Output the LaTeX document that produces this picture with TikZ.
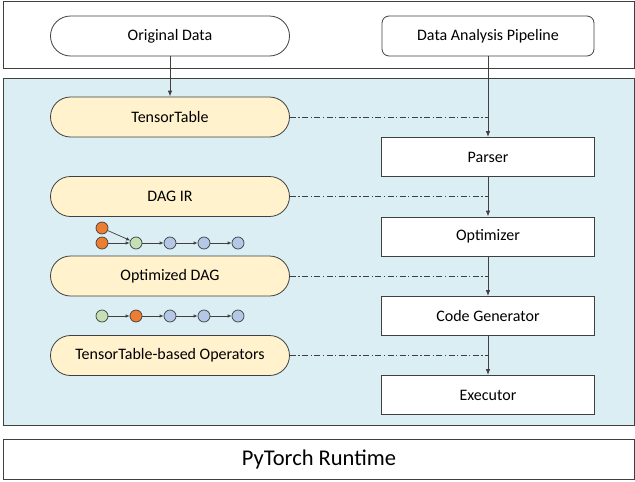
\documentclass[tikz,border=0pt]{standalone}
\usepackage{fontspec}
\setmainfont{Carlito}
\usetikzlibrary{arrows.meta}
\definecolor{bgblue}{HTML}{DAEEF3}
\definecolor{pillyellow}{HTML}{FFF2CC}
\definecolor{dorange}{HTML}{ED7D31}
\definecolor{dgreen}{HTML}{C5E0B4}
\definecolor{dblue}{HTML}{B4C7E7}
\definecolor{edge}{HTML}{404040}
\tikzset{
  pill/.style={draw=edge, line width=0.8pt, rounded corners=20pt, minimum width=239pt, minimum height=40pt, font=\fontsize{16}{18}\selectfont, inner sep=0pt},
  ypill/.style={pill, fill=pillyellow},
  stagebox/.style={draw=edge, line width=0.8pt, fill=white, minimum width=213pt, minimum height=39pt, font=\fontsize{16}{18}\selectfont, inner sep=0pt},
  flow/.style={draw=edge, line width=0.9pt, -{Latex[length=6pt,width=4.5pt]}},
  link/.style={draw=edge, line width=0.6pt, dash pattern=on 6pt off 2.5pt on 1.2pt off 2.5pt},
  dot/.style={circle, draw=edge, line width=0.7pt, minimum size=12pt, inner sep=0pt},
  darr/.style={draw=edge, line width=0.7pt, -{Latex[length=4pt,width=3.5pt]}},
}
\begin{document}
\begin{tikzpicture}[x=1pt,y=-1pt]
\useasboundingbox (0,0) rectangle (635,482);
% layers
\node[draw=edge, line width=0.9pt, minimum width=631pt, minimum height=67pt, inner sep=0pt] (top) at (319,35) {};
\node[draw=edge, line width=0.9pt, fill=bgblue, minimum width=631pt, minimum height=347pt, inner sep=0pt] (mid) at (319,251.5) {};
\node[draw=edge, line width=0.9pt, minimum width=631pt, minimum height=40pt, inner sep=0pt, font=\fontsize{22.5}{26}\selectfont] (rt) at (319,459) {PyTorch Runtime};
% top nodes
\node[pill, fill=white] (orig) at (170,36) {Original Data};
\node[pill, fill=white, rounded corners=7pt, minimum width=212pt] (dap) at (488,36) {Data Analysis Pipeline};
% left pills
\node[ypill] (tt) at (170,117) {TensorTable};
\node[ypill] (dag) at (170,196.5) {DAG IR};
\node[ypill] (odag) at (170,276) {Optimized DAG};
\node[ypill] (ops) at (170,355.5) {TensorTable-based Operators};
% right boxes
\node[stagebox] (parser) at (488,157) {Parser};
\node[stagebox] (opt) at (488,236.5) {Optimizer};
\node[stagebox] (cg) at (488,316) {Code Generator};
\node[stagebox] (ex) at (488,395) {Executor};
% flow arrows
\draw[flow] (orig) -- (tt);
\draw[flow] (dap) -- (parser);
\draw[flow] (parser) -- (opt);
\draw[flow] (opt) -- (cg);
\draw[flow] (cg) -- (ex);
% dash-dot links
\coordinate (l1) at (488,117);
\coordinate (l2) at (488,196.5);
\coordinate (l3) at (488,276);
\coordinate (l4) at (488,355.5);
\draw[link] (tt.east) -- (l1);
\draw[link] (dag.east) -- (l2);
\draw[link] (odag.east) -- (l3);
\draw[link] (ops.east) -- (l4);
% DAG graph 1
\node[dot, fill=dorange] (a0) at (102,228) {};
\node[dot, fill=dorange] (a1) at (102,243) {};
\node[dot, fill=dgreen] (a2) at (136,243) {};
\node[dot, fill=dblue] (a3) at (170,243) {};
\node[dot, fill=dblue] (a4) at (204,243) {};
\node[dot, fill=dblue] (a5) at (238,243) {};
\draw[darr] (a0) -- (a2);
\draw[darr] (a1) -- (a2);
\draw[darr] (a2) -- (a3);
\draw[darr] (a3) -- (a4);
\draw[darr] (a4) -- (a5);
% DAG graph 2
\node[dot, fill=dgreen] (b1) at (102,316) {};
\node[dot, fill=dorange] (b2) at (136,316) {};
\node[dot, fill=dblue] (b3) at (170,316) {};
\node[dot, fill=dblue] (b4) at (204,316) {};
\node[dot, fill=dblue] (b5) at (238,316) {};
\draw[darr] (b1) -- (b2);
\draw[darr] (b2) -- (b3);
\draw[darr] (b3) -- (b4);
\draw[darr] (b4) -- (b5);
\end{tikzpicture}
\end{document}
